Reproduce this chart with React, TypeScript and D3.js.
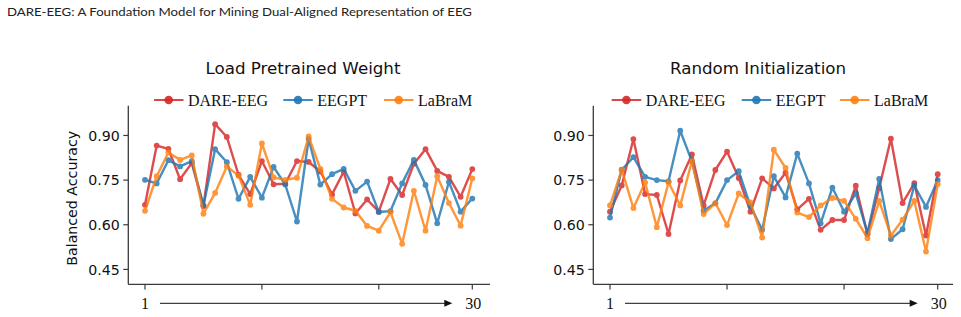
import React from "react";
import * as d3 from "d3";

// Balanced accuracy per subject run (29 runs, labelled 1 → 30 on the axis)
const pretrainedDare = [0.667, 0.866, 0.855, 0.753, 0.807, 0.663, 0.938, 0.895, 0.768, 0.703, 0.814, 0.736, 0.738, 0.814, 0.811, 0.779, 0.702, 0.778, 0.638, 0.685, 0.644, 0.754, 0.700, 0.805, 0.854, 0.781, 0.761, 0.694, 0.787];
const pretrainedEegpt = [0.751, 0.739, 0.817, 0.796, 0.814, 0.665, 0.854, 0.810, 0.687, 0.761, 0.691, 0.794, 0.735, 0.611, 0.888, 0.735, 0.770, 0.788, 0.714, 0.745, 0.643, 0.646, 0.739, 0.818, 0.734, 0.605, 0.744, 0.644, 0.688];
const pretrainedLabram = [0.647, 0.763, 0.843, 0.818, 0.833, 0.637, 0.707, 0.796, 0.765, 0.667, 0.873, 0.759, 0.751, 0.758, 0.897, 0.788, 0.687, 0.658, 0.647, 0.596, 0.580, 0.642, 0.536, 0.714, 0.580, 0.763, 0.673, 0.597, 0.756];

const randomDare = [0.644, 0.732, 0.888, 0.703, 0.700, 0.569, 0.749, 0.836, 0.665, 0.784, 0.846, 0.757, 0.644, 0.756, 0.722, 0.775, 0.652, 0.687, 0.583, 0.616, 0.616, 0.731, 0.568, 0.723, 0.889, 0.673, 0.740, 0.564, 0.770];
const randomEegpt = [0.624, 0.785, 0.827, 0.761, 0.750, 0.746, 0.916, 0.813, 0.648, 0.672, 0.750, 0.780, 0.663, 0.583, 0.763, 0.692, 0.839, 0.739, 0.605, 0.725, 0.644, 0.705, 0.572, 0.754, 0.552, 0.585, 0.732, 0.660, 0.750];
const randomLabram = [0.665, 0.785, 0.656, 0.742, 0.592, 0.742, 0.665, 0.814, 0.636, 0.673, 0.599, 0.705, 0.675, 0.557, 0.852, 0.791, 0.641, 0.626, 0.665, 0.690, 0.680, 0.620, 0.555, 0.680, 0.564, 0.617, 0.680, 0.510, 0.737];

const seriesNames = ["DARE-EEG", "EEGPT", "LaBraM"];
const seriesColors = ["#d62728", "#1f77b4", "#ff7f0e"];
const yTicks = [0.45, 0.6, 0.75, 0.9];
const xTicks = [0, 10, 20, 28];
const runStartLabel = "1";
const runEndLabel = "30";

const panels = [
  { title: "Load Pretrained Weight", titleX: 303, series: [pretrainedDare, pretrainedEegpt, pretrainedLabram], axisX: 128.3, x0: 145, x1: 472.3, spineEnd: 490, showYLabel: true, legendX: 154, legendGaps: [0, 129.3, 230] },
  { title: "Random Initialization", titleX: 758, series: [randomDare, randomEegpt, randomLabram], axisX: 593.3, x0: 610, x1: 937.7, spineEnd: 953, showYLabel: false, legendX: 611.7, legendGaps: [0, 130, 228.3] },
];

const SANS = "'DejaVu Sans', sans-serif";
const SERIF = "'Liberation Serif', 'Times New Roman', serif";
const AXIS_COLOR = "#3a3a3a";

function Panel({ p }: { p: (typeof panels)[number] }) {
  const y = d3.scaleLinear().domain([0.4, 1.0]).range([284.3, 105.7]);
  const x = d3.scaleLinear().domain([0, 28]).range([p.x0, p.x1]);
  const line = d3
    .line<number>()
    .x((_, i) => x(i))
    .y((v) => y(v));
  const arrowY = 303.3;
  return (
    <g>
      <text x={p.titleX} y={74} textAnchor="middle" fontFamily={SANS} fontSize={16.7} fill="#111">
        {p.title}
      </text>
      {/* legend */}
      {seriesNames.map((name, k) => {
        const lx = p.legendX + p.legendGaps[k];
        return (
          <g key={name}>
            <line x1={lx} x2={lx + 29.5} y1={100} y2={100} stroke={seriesColors[k]} strokeWidth={2} strokeOpacity={0.85} />
            <circle cx={lx + 14.7} cy={100} r={4.3} fill={seriesColors[k]} fillOpacity={0.9} />
            <text x={lx + 34} y={105.5} fontFamily={SERIF} fontSize={16} fill="#111">
              {name}
            </text>
          </g>
        );
      })}
      {/* spines */}
      <line x1={p.axisX} x2={p.axisX} y1={105.7} y2={284.3} stroke={AXIS_COLOR} strokeWidth={1.3} />
      <line x1={p.axisX} x2={p.spineEnd} y1={284.3} y2={284.3} stroke={AXIS_COLOR} strokeWidth={1.3} />
      {yTicks.map((t) => (
        <g key={t}>
          <line x1={p.axisX - 5} x2={p.axisX} y1={y(t)} y2={y(t)} stroke={AXIS_COLOR} strokeWidth={1.2} />
          <text x={p.axisX - 8.5} y={y(t)} dy="0.36em" textAnchor="end" fontFamily={SANS} fontSize={14.2} fill="#111">
            {d3.format(".2f")(t)}
          </text>
        </g>
      ))}
      {xTicks.map((t) => (
        <line key={t} x1={x(t)} x2={x(t)} y1={284.3} y2={289.5} stroke={AXIS_COLOR} strokeWidth={1.2} />
      ))}
      {p.showYLabel && (
        <text
          transform="translate(76.5, 198.3) rotate(-90)"
          textAnchor="middle"
          fontFamily={SANS}
          fontSize={14.2}
          fill="#111"
        >
          Balanced Accuracy
        </text>
      )}
      {/* run index annotation */}
      <text x={x(0)} y={arrowY + 5.5} textAnchor="middle" fontFamily={SERIF} fontSize={16} fill="#111">
        {runStartLabel}
      </text>
      <line x1={x(0) + 15} x2={x(28) - 27} y1={arrowY} y2={arrowY} stroke="#111" strokeWidth={1} />
      <path
        d={`M${x(28) - 20},${arrowY} L${x(28) - 28},${arrowY - 3.5} L${x(28) - 28},${arrowY + 3.5} Z`}
        fill="#111"
      />
      <text x={x(28) + 1} y={arrowY + 5.5} textAnchor="middle" fontFamily={SERIF} fontSize={16} fill="#111">
        {runEndLabel}
      </text>
      {/* series */}
      {p.series.map((vals, k) => (
        <g key={k} opacity={0.82}>
          <path d={line(vals) ?? ""} fill="none" stroke={seriesColors[k]} strokeWidth={2.4} strokeLinejoin="round" />
          {vals.map((v, i) => (
            <circle key={i} cx={x(i)} cy={y(v)} r={2.9} fill={seriesColors[k]} />
          ))}
        </g>
      ))}
    </g>
  );
}

export default function App() {
  return (
    <svg width={961} height={317} style={{ position: "absolute", left: 0, top: 0, background: "#fff" }}>
      <rect width={961} height={317} fill="#fff" />
      <text x={7} y={15.8} fontFamily="Lato, 'Noto Sans', sans-serif" fontSize={12} fill="#222" textLength={465} lengthAdjust="spacingAndGlyphs">
        DARE-EEG: A Foundation Model for Mining Dual-Aligned Representation of EEG
      </text>
      {panels.map((p) => (
        <Panel key={p.title} p={p} />
      ))}
    </svg>
  );
}
